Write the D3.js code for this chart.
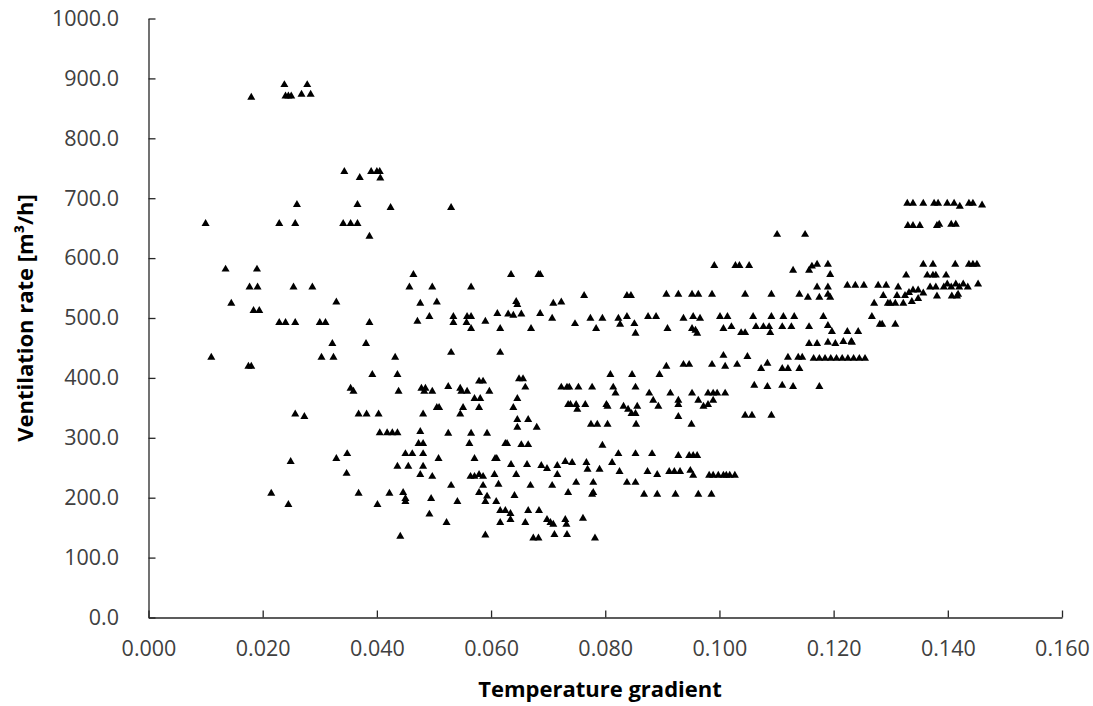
<!DOCTYPE html>
<html>
<head>
<meta charset="utf-8">
<script src="https://cdn.jsdelivr.net/npm/d3@7"></script>
<style>
  html, body { margin: 0; padding: 0; background: #ffffff; }
  svg { display: block; }
</style>
</head>
<body>
<svg id="chart" width="1093" height="706"></svg>
<script>
// ---- Data: [temperature gradient, ventilation rate m3/h] ----
const xTicks = [0, 0.02, 0.04, 0.06, 0.08, 0.10, 0.12, 0.14, 0.16];
const yTicks = [0, 100, 200, 300, 400, 500, 600, 700, 800, 900, 1000];

const pointsBandA = [
  [0.0180,870],[0.0238,891],[0.0278,891],[0.0240,872],[0.0245,872],[0.0250,872],[0.0268,875],[0.0284,875],
  [0.0343,746],[0.0370,736],[0.0390,746],[0.0400,746],[0.0405,746],[0.0406,735],
  [0.0260,691],[0.0366,691],[0.0424,686],
  [0.0100,659],[0.0229,659],[0.0257,659],[0.0341,659],[0.0354,659],[0.0366,659],[0.0387,638],
  [0.0135,583],[0.0190,583],
  [0.0177,553],[0.0191,553],[0.0254,553],[0.0287,553],
  [0.0145,526],[0.0329,528],[0.0184,514],[0.0194,514],
  [0.0229,494],[0.0240,494],[0.0257,494],[0.0300,494],[0.0310,494],[0.0387,494],
  [0.0322,459],[0.0381,459],[0.0110,436],[0.0303,436],[0.0324,436],[0.0432,436],
  [0.0175,421],[0.0180,421],[0.0392,407],[0.0436,407],
  [0.0354,384],[0.0359,379],[0.0438,379],
  [0.0257,341],[0.0273,337],[0.0368,341],[0.0382,341],[0.0403,341],
  [0.0405,310],[0.0418,310],[0.0427,310],[0.0436,310],
  [0.0348,275],[0.0249,262],[0.0329,267],[0.0347,242],[0.0436,254],
  [0.0215,209],[0.0368,209],[0.0422,209],[0.0245,190],[0.0401,190],[0.0441,137]
];

const pointsBandB = [
  [0.0464,574],[0.0635,574],[0.0683,574],[0.0686,574],
  [0.0457,553],[0.0497,553],[0.0565,553],
  [0.0476,526],[0.0505,528],[0.0644,529],[0.0646,524],[0.0709,526],[0.0723,528],
  [0.0471,496],[0.0492,504],[0.0534,504],[0.0534,494],[0.0558,504],[0.0565,504],[0.0557,494],[0.0565,484],
  [0.0590,496],[0.0611,509],[0.0630,508],[0.0639,506],[0.0653,508],[0.0616,484],[0.0686,509],[0.0707,501],[0.0670,484],
  [0.0530,444],[0.0616,444],[0.0530,686],
  [0.0478,384],[0.0485,384],[0.0483,379],[0.0497,379],[0.0525,387],[0.0546,384],[0.0548,379],[0.0558,379],
  [0.0579,396],[0.0586,396],[0.0597,379],[0.0571,367],[0.0581,367],[0.0649,400],[0.0656,400],[0.0660,386],
  [0.0646,367],[0.0723,386],[0.0733,386],
  [0.0505,352],[0.0509,352],[0.0551,352],[0.0579,352],[0.0639,352],[0.0481,341],[0.0546,341],[0.0735,357],
  [0.0646,332],[0.0665,332],[0.0646,319],[0.0680,319],
  [0.0476,312],[0.0525,309],[0.0565,309],[0.0593,309],
  [0.0473,292],[0.0481,292],[0.0562,292],[0.0625,292],[0.0628,292],[0.0653,290],[0.0665,290],
  [0.0450,275],[0.0462,275],[0.0481,275],[0.0508,267],[0.0571,267],[0.0607,267],[0.0610,267],
  [0.0455,254],[0.0481,254],[0.0476,240],[0.0497,237],[0.0564,237],[0.0571,237],[0.0579,240],[0.0586,237],
  [0.0606,240],[0.0635,257],[0.0663,257],[0.0688,255],[0.0698,250],[0.0716,255],[0.0730,262],[0.0644,240],[0.0716,240],
  [0.0530,222],[0.0586,222],[0.0613,224],[0.0669,222],[0.0707,222],[0.0735,210],
  [0.0446,210],[0.0450,200],[0.0450,195],[0.0495,200],[0.0541,195],[0.0579,210],[0.0593,204],[0.0590,195],[0.0609,195],[0.0641,205],
  [0.0616,180],[0.0625,180],[0.0634,175],[0.0665,180],[0.0684,180],[0.0492,174],[0.0634,165],[0.0522,160],
  [0.0616,160],[0.0660,160],[0.0698,165],[0.0704,160],[0.0709,157],[0.0730,165],[0.0732,157],
  [0.0711,140],[0.0733,140],[0.0590,139],[0.0674,134],[0.0683,134]
];

const pointsBandC = [
  [0.0763,539],[0.0838,539],[0.0845,539],[0.0907,541],[0.0928,541],[0.0952,541],[0.0963,541],[0.0987,541],
  [0.0747,492],[0.0774,501],[0.0795,501],[0.0784,484],[0.0823,501],[0.0838,504],[0.0826,491],[0.0851,492],
  [0.0853,476],[0.0875,504],[0.0889,504],[0.0909,484],[0.0937,501],[0.0954,504],[0.0966,501],[0.0952,484],
  [0.0958,481],[0.0961,476],[0.1001,504],[0.1007,484],
  [0.1007,439],[0.0907,421],[0.0937,424],[0.0947,424],[0.0987,424],[0.1010,421],
  [0.0809,407],[0.0847,407],[0.0895,407],
  [0.0737,386],[0.0753,386],[0.0777,386],[0.0814,386],[0.0818,376],[0.0853,386],[0.0877,376],[0.0914,376],
  [0.0952,376],[0.0980,376],[0.0989,376],[0.0996,376],[0.1010,376],
  [0.0739,357],[0.0749,357],[0.0765,357],[0.0751,349],[0.0802,357],[0.0804,354],[0.0832,354],[0.0840,349],
  [0.0846,342],[0.0853,342],[0.0856,354],[0.0884,364],[0.0893,354],[0.0928,364],[0.0928,357],[0.0963,364],
  [0.0972,354],[0.0980,357],[0.0989,364],[0.0928,337],
  [0.0775,324],[0.0786,324],[0.0804,324],[0.0854,324],[0.0951,324],[0.0795,289],
  [0.0823,275],[0.0853,275],[0.0882,275],[0.0928,272],[0.0947,272],[0.0954,272],[0.0961,272],
  [0.0742,260],[0.0767,260],[0.0812,260],[0.0769,249],[0.0790,249],[0.0825,245],[0.0874,245],[0.0891,240],
  [0.0912,245],[0.0921,245],[0.0931,245],[0.0949,247],[0.0954,239],[0.0982,239],[0.0989,239],[0.0998,239],
  [0.1007,239],[0.1012,239],[0.1018,239],[0.1027,239],
  [0.0749,227],[0.0779,227],[0.0838,227],[0.0853,227],[0.0777,207],[0.0779,210],[0.0868,207],[0.0891,207],
  [0.0923,207],[0.0963,207],[0.0986,207],
  [0.0761,167],[0.0782,134]
];

const pointsBandD = [
  [0.0991,589],[0.1028,589],[0.1035,589],[0.1052,589],[0.1129,581],[0.1157,581],[0.1162,588],[0.1171,591],
  [0.1190,591],[0.1194,574],[0.1101,641],[0.1150,641],
  [0.1224,556],[0.1238,556],[0.1253,556],[0.1278,556],[0.1292,556],[0.1287,539],[0.1271,526],[0.1295,526],
  [0.1045,541],[0.1091,541],[0.1140,541],[0.1155,536],[0.1175,536],[0.1190,541],[0.1190,553],[0.1171,553],[0.1194,536],
  [0.1014,504],[0.1059,504],[0.1091,504],[0.1112,504],[0.1131,504],[0.1182,504],[0.1267,504],
  [0.1021,487],[0.1038,477],[0.1045,477],[0.1064,487],[0.1077,487],[0.1087,487],[0.1089,477],[0.1110,487],
  [0.1126,487],[0.1157,487],[0.1190,489],[0.1197,479],[0.1224,479],[0.1243,479],[0.1285,491],
  [0.1157,459],[0.1171,459],[0.1190,461],[0.1203,459],[0.1217,462],[0.1231,462],
  [0.1049,437],[0.1120,436],[0.1138,436],[0.1145,436],[0.1165,434],[0.1175,434],[0.1185,434],[0.1195,434],
  [0.1205,434],[0.1215,434],[0.1225,434],[0.1235,434],[0.1245,434],[0.1255,434],
  [0.1031,424],[0.1073,417],[0.1084,426],[0.1110,417],[0.1120,417],[0.1140,417],
  [0.1061,389],[0.1084,387],[0.1110,389],[0.1129,387],[0.1175,387],
  [0.1045,339],[0.1057,339],[0.1091,339]
];

const pointsBandE = [
  [0.1329,693],[0.1339,693],[0.1357,693],[0.1376,693],[0.1383,693],[0.1399,693],[0.1411,693],[0.1421,688],
  [0.1437,693],[0.1444,693],[0.1460,690],
  [0.1330,656],[0.1339,656],[0.1351,656],[0.1381,656],[0.1385,658],[0.1406,658],[0.1414,658],
  [0.1357,591],[0.1374,591],[0.1413,591],[0.1437,591],[0.1444,591],[0.1451,591],
  [0.1327,573],[0.1364,573],[0.1374,573],[0.1379,573],[0.1397,573],
  [0.1313,553],[0.1311,539],[0.1325,539],[0.1332,544],[0.1339,548],[0.1348,548],[0.1357,543],[0.1348,534],
  [0.1369,553],[0.1379,553],[0.1393,553],[0.1399,558],[0.1406,553],[0.1414,558],[0.1420,553],[0.1427,558],
  [0.1435,553],[0.1453,558],[0.1418,541],[0.1381,538],[0.1407,538],[0.1416,538],
  [0.1299,526],[0.1308,526],[0.1322,526],[0.1337,529],
  [0.1281,491],[0.1308,491],[0.1232,461]
];

const allPoints = [].concat(pointsBandA, pointsBandB, pointsBandC, pointsBandD, pointsBandE);

// ---- Layout ----
const svg = d3.select("#chart");
const plotLeft = 148.5, plotRight = 1062, plotTop = 18.5, plotBottom = 617.5;

const x = d3.scaleLinear().domain([0, 0.16]).range([plotLeft, plotRight]);
const y = d3.scaleLinear().domain([0, 1000]).range([plotBottom, plotTop]);

const tickFont = "'Open Sans', 'DejaVu Sans', sans-serif";
const textColor = "#404040";
const axisColor = "#262626";
const tickSize = 21.5;

// X axis
const xAxis = svg.append("g")
  .attr("transform", `translate(0,${plotBottom})`)
  .call(d3.axisBottom(x).tickValues(xTicks).tickFormat(d3.format(".3f"))
    .tickSizeInner(-7).tickSizeOuter(0).tickPadding(23.5));
xAxis.select(".domain").attr("stroke", axisColor).attr("stroke-width", 1.3);
xAxis.selectAll(".tick line").attr("stroke", axisColor).attr("stroke-width", 1.3);
xAxis.selectAll(".tick text").attr("font-family", tickFont).attr("font-size", tickSize)
  .attr("fill", textColor);

// Y axis
const yAxis = svg.append("g")
  .attr("transform", `translate(${plotLeft},0)`)
  .call(d3.axisLeft(y).tickValues(yTicks).tickFormat(d3.format(".1f"))
    .tickSizeInner(-7).tickSizeOuter(0).tickPadding(29.5));
yAxis.select(".domain").attr("stroke", axisColor).attr("stroke-width", 1.3);
yAxis.selectAll(".tick line").attr("stroke", axisColor).attr("stroke-width", 1.3);
yAxis.selectAll(".tick text").attr("font-family", tickFont).attr("font-size", tickSize)
  .attr("fill", textColor);

// Axis titles
svg.append("text")
  .attr("x", 600).attr("y", 697)
  .attr("text-anchor", "middle")
  .attr("font-family", tickFont).attr("font-weight", "bold").attr("font-size", 22)
  .attr("fill", "#000")
  .text("Temperature gradient");

svg.append("text")
  .attr("transform", `translate(33,${(plotTop + plotBottom) / 2}) rotate(-90)`)
  .attr("text-anchor", "middle")
  .attr("font-family", tickFont).attr("font-weight", "bold").attr("font-size", 22)
  .attr("fill", "#000")
  .text("Ventilation rate [m³/h]");

// Points
const tri = d3.symbol().type(d3.symbolTriangle).size(28);
svg.append("g").selectAll("path")
  .data(allPoints)
  .join("path")
  .attr("d", tri)
  .attr("transform", d => `translate(${x(d[0])},${y(d[1]) + 1})`)
  .attr("fill", "#000");
</script>
</body>
</html>
